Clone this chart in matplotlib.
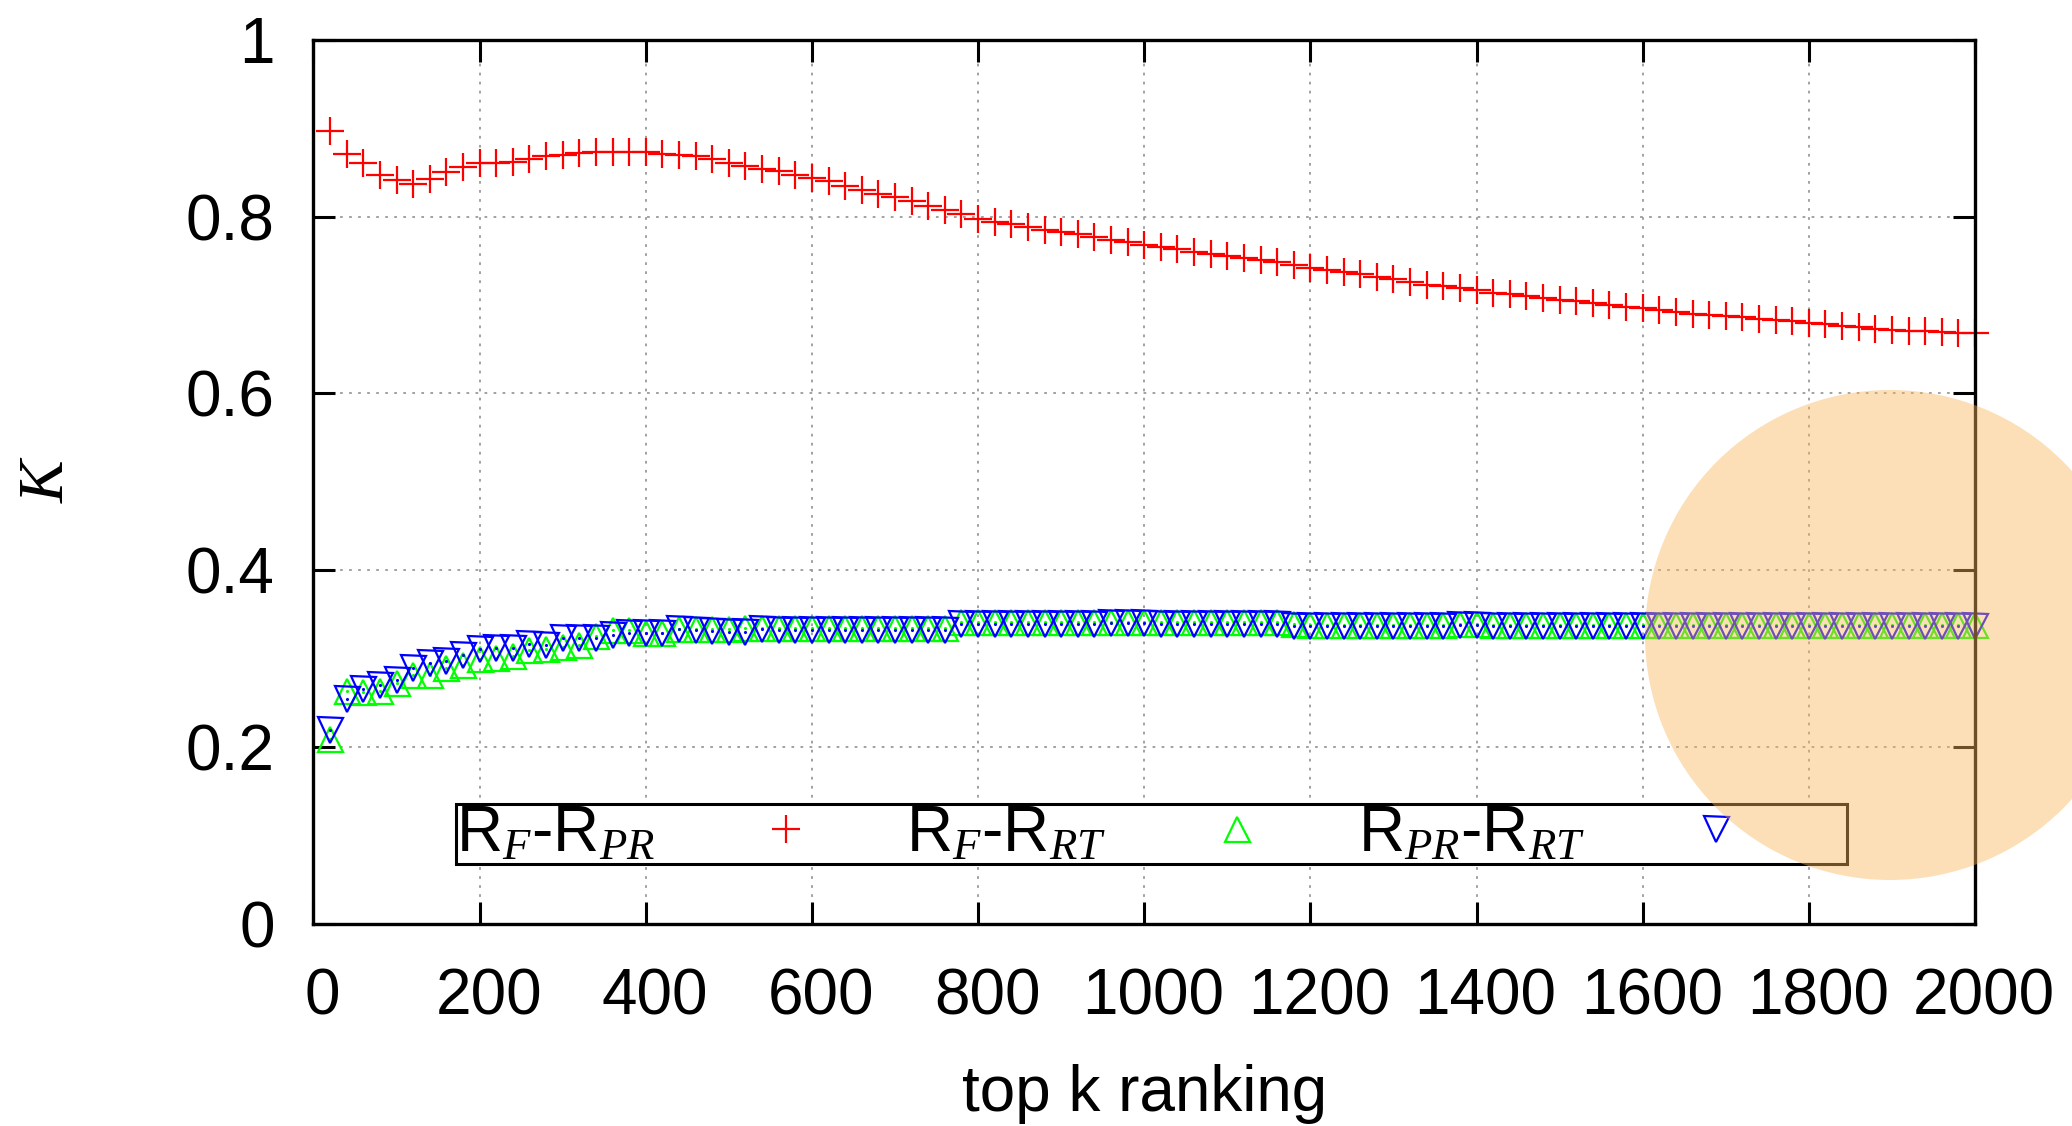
import numpy as np
import matplotlib
matplotlib.use("Agg")
import matplotlib.pyplot as plt
import matplotlib.transforms as mtransforms
from matplotlib.patches import Ellipse

plt.rcParams['font.family'] = ['Liberation Sans', 'DejaVu Sans']
plt.rcParams['mathtext.fontset'] = 'custom'
plt.rcParams['mathtext.it'] = 'Liberation Serif:italic'
plt.rcParams['mathtext.rm'] = 'Liberation Sans'

# top k values (every 20 up to 2000)
top_k = np.arange(20, 2001, 20)

# R_F - R_PR
k_f_pr = [0.897, 0.871, 0.861, 0.847, 0.841, 0.837, 0.842, 0.850, 0.856, 0.860,
          0.861, 0.862, 0.865, 0.868, 0.870, 0.872, 0.873, 0.873, 0.873, 0.873,
          0.871, 0.870, 0.868, 0.865, 0.861, 0.857, 0.854, 0.852, 0.847, 0.843,
          0.840, 0.835, 0.830, 0.826, 0.822, 0.817, 0.812, 0.807, 0.803, 0.797,
          0.794, 0.791, 0.788, 0.785, 0.783, 0.780, 0.777, 0.774, 0.771, 0.768,
          0.766, 0.763, 0.760, 0.758, 0.755, 0.753, 0.751, 0.748, 0.745, 0.742,
          0.740, 0.737, 0.735, 0.732, 0.729, 0.726, 0.723, 0.721, 0.719, 0.717,
          0.714, 0.712, 0.710, 0.708, 0.706, 0.704, 0.702, 0.700, 0.698, 0.696,
          0.694, 0.692, 0.690, 0.689, 0.688, 0.686, 0.684, 0.683, 0.682, 0.680,
          0.678, 0.676, 0.675, 0.673, 0.672, 0.671, 0.670, 0.669, 0.668, 0.668]

# R_F - R_RT
k_f_rt = [0.209, 0.263, 0.262, 0.263, 0.272, 0.281, 0.282, 0.290, 0.293, 0.300,
          0.301, 0.303, 0.310, 0.311, 0.313, 0.316, 0.326, 0.332, 0.332, 0.329,
          0.329, 0.334, 0.334, 0.334, 0.334, 0.335, 0.335, 0.335, 0.335, 0.335,
          0.335, 0.335, 0.335, 0.335, 0.335, 0.335, 0.335, 0.335, 0.341, 0.341,
          0.341, 0.341, 0.341, 0.341, 0.341, 0.341, 0.341, 0.342, 0.342, 0.342,
          0.341, 0.341, 0.341, 0.341, 0.341, 0.341, 0.341, 0.341, 0.339, 0.338,
          0.338, 0.338, 0.338, 0.338, 0.338, 0.338, 0.338, 0.338, 0.339, 0.339,
          0.338, 0.338, 0.338, 0.338, 0.338, 0.338, 0.338, 0.338, 0.338, 0.338,
          0.338, 0.338, 0.338, 0.338, 0.338, 0.338, 0.338, 0.338, 0.338, 0.338,
          0.338, 0.338, 0.338, 0.338, 0.338, 0.338, 0.338, 0.338, 0.338, 0.338]

# R_PR - R_RT
k_pr_rt = [0.219, 0.254, 0.266, 0.270, 0.276, 0.290, 0.295, 0.297, 0.304, 0.311,
           0.312, 0.312, 0.317, 0.316, 0.323, 0.323, 0.323, 0.327, 0.329, 0.329,
           0.329, 0.334, 0.332, 0.331, 0.330, 0.330, 0.334, 0.333, 0.333, 0.333,
           0.332, 0.332, 0.332, 0.332, 0.332, 0.332, 0.332, 0.332, 0.339, 0.339,
           0.339, 0.339, 0.339, 0.339, 0.339, 0.339, 0.339, 0.340, 0.340, 0.340,
           0.339, 0.339, 0.339, 0.339, 0.339, 0.339, 0.339, 0.339, 0.337, 0.337,
           0.337, 0.337, 0.337, 0.337, 0.337, 0.337, 0.337, 0.337, 0.338, 0.338,
           0.337, 0.337, 0.337, 0.337, 0.337, 0.337, 0.337, 0.337, 0.337, 0.337,
           0.337, 0.337, 0.337, 0.337, 0.337, 0.337, 0.337, 0.337, 0.337, 0.337,
           0.337, 0.337, 0.337, 0.337, 0.337, 0.337, 0.337, 0.337, 0.337, 0.337]

labels = ['R$_{F}$-R$_{PR}$', 'R$_{F}$-R$_{RT}$', 'R$_{PR}$-R$_{RT}$']
x_ticks = [0, 200, 400, 600, 800, 1000, 1200, 1400, 1600, 1800, 2000]
y_ticks = [0, 0.2, 0.4, 0.6, 0.8, 1.0]

fig = plt.figure(figsize=(20.72, 11.26), dpi=100)
ax = fig.add_axes([0.1513, 0.1794, 0.8019, 0.7854])

l1, = ax.plot(top_k, k_f_pr, ls='none', marker='+', ms=20, mew=1.6,
              color='#ff0000', clip_on=False, label=labels[0])
l2, = ax.plot(top_k, k_f_rt, ls='none', marker='^', ms=18, mew=1.6, mfc='none',
              color='#00ff00', clip_on=False, label=labels[1])
ax.plot(top_k, k_f_rt, ls='none', marker='.', ms=2.5, color='#00ff00', clip_on=False)
l3, = ax.plot(top_k, k_pr_rt, ls='none', marker='v', ms=18, mew=1.6, mfc='none',
              color='#0000ff', clip_on=False, label=labels[2])
ax.plot(top_k, k_pr_rt, ls='none', marker='.', ms=2.5, color='#0000ff', clip_on=False)

ax.set_xlim(0, 2000)
ax.set_ylim(0, 1)
ax.set_xticks(x_ticks)
ax.set_yticks(y_ticks)
ax.set_yticklabels([f'{v:g}' for v in y_ticks])
ax.tick_params(axis='both', direction='in', length=16, width=2.2,
               top=True, right=True, labelsize=46)
ax.tick_params(axis='x', pad=31)
ax.tick_params(axis='y', pad=28)
for s in ax.spines.values():
    s.set_linewidth(2.4)

# gnuplot shifts x tick labels slightly to the right
offset = mtransforms.ScaledTranslation(0.09, 0, fig.dpi_scale_trans)
for lab in ax.get_xticklabels():
    lab.set_transform(lab.get_transform() + offset)

ax.grid(True, color='#9a9a9a', linestyle=(0, (1.5, 3.5)), linewidth=1.3)
ax.set_axisbelow(True)

ax.set_xlabel('top k ranking', fontsize=46)
ax.xaxis.set_label_coords(0.5, -0.158)
ax.set_ylabel('K', fontsize=46, family='Liberation Serif', style='italic')
ax.yaxis.set_label_coords(-0.142, 0.5)

# gnuplot-like key: text first, sample to the right
leg = ax.legend(handles=[l1, l2, l3], ncol=3, loc='center left',
                bbox_to_anchor=(0.0858, 0.1018),
                markerfirst=False, fontsize=46, frameon=True, fancybox=False,
                borderpad=0.0, borderaxespad=0.0, handlelength=4.1,
                handletextpad=0.0, columnspacing=-0.17)
leg.get_frame().set_edgecolor('black')
leg.get_frame().set_linewidth(2.2)
leg.get_frame().set_alpha(1.0)

# highlight circle over the tail of the curves
fig.add_artist(Ellipse((1890 / 2072, 1 - 635 / 1126), 2 * 245 / 2072, 2 * 245 / 1126,
                       transform=fig.transFigure, facecolor='#fab65b', edgecolor='none',
                       alpha=0.44, zorder=10))

fig.savefig('out.png', dpi=100)
